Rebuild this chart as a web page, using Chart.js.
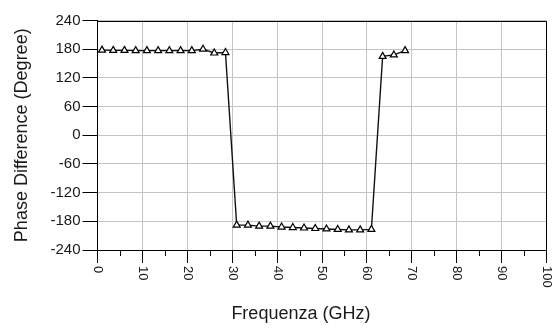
<!DOCTYPE html>
<html>
<head>
<meta charset="utf-8">
<script src="https://cdn.jsdelivr.net/npm/chart.js@4/dist/chart.umd.min.js"></script>
<style>
  html, body { margin: 0; padding: 0; background: #ffffff; }
  #wrap { width: 555px; height: 328px; position: relative; }
</style>
</head>
<body>
<div id="wrap"><canvas id="c" width="555" height="328"></canvas></div>
<script>
// ---- data ----
const freqGHz = [1, 3.5, 6, 8.5, 11, 13.5, 16, 18.5, 21, 23.5, 26, 28.5,
                 31, 33.5, 36, 38.5, 41, 43.5, 46, 48.5, 51, 53.5, 56, 58.5, 61,
                 63.5, 66, 68.5];
const phaseDeg = [178, 177.5, 177.5, 177, 177, 177, 177, 177, 177, 180, 172, 173,
                  -188, -188, -190, -190, -192, -193, -194, -195, -196, -197, -198, -198, -197,
                  165, 168, 177];
const xTicks = [0, 10, 20, 30, 40, 50, 60, 70, 80, 90, 100];
const xMinorTicks = [5, 15, 25, 35, 45, 55, 65, 75, 85, 95];
const yTicks = [-240, -180, -120, -60, 0, 60, 120, 180, 240];
const xTitle = 'Frequenza (GHz)';
const yTitle = 'Phase Difference (Degree)';

const FONT = "'Liberation Sans', Arial, sans-serif";
const TEXT = '#1a1a1a';
const GRID = '#c4c4c4';

const points = freqGHz.map((f, i) => ({ x: f, y: phaseDeg[i] }));

const overlay = {
  id: 'overlay',
  afterDraw(chart) {
    const { ctx, chartArea: a, scales: { x } } = chart;
    ctx.save();
    // frame top & right
    ctx.strokeStyle = '#000';
    ctx.lineWidth = 1;
    ctx.beginPath();
    const top = Math.round(a.top) + 0.5;
    const right = Math.round(a.right) - 0.5;
    ctx.moveTo(a.left, top);
    ctx.lineTo(right, top);
    ctx.lineTo(right, a.bottom);
    ctx.stroke();
    // minor ticks on x axis
    ctx.beginPath();
    xMinorTicks.forEach(v => {
      const px = Math.round(x.getPixelForValue(v)) + 0.5;
      ctx.moveTo(px, a.bottom);
      ctx.lineTo(px, a.bottom + 6);
    });
    ctx.stroke();
    // x tick labels, rotated clockwise
    ctx.fillStyle = TEXT;
    ctx.font = '13px ' + FONT;
    ctx.textAlign = 'left';
    ctx.textBaseline = 'middle';
    xTicks.forEach(v => {
      const px = x.getPixelForValue(v);
      ctx.save();
      ctx.translate(px, a.bottom + 16);
      ctx.rotate(Math.PI / 2);
      ctx.fillText(String(v), 0, 0);
      ctx.restore();
    });
    // x axis title
    ctx.font = '18px ' + FONT;
    ctx.textAlign = 'center';
    ctx.textBaseline = 'middle';
    ctx.fillText(xTitle, a.left + (a.right - a.left) * 0.453, a.bottom + 64);
    ctx.restore();
  }
};

new Chart(document.getElementById('c'), {
  type: 'scatter',
  data: {
    datasets: [{
      data: points,
      showLine: true,
      borderColor: '#111',
      borderWidth: 1.4,
      pointStyle: 'triangle',
      pointRadius: 4,
      pointBorderWidth: 1.2,
      pointBackgroundColor: '#ffffff',
      pointBorderColor: '#000',
      tension: 0
    }]
  },
  options: {
    responsive: false,
    animation: false,
    events: [],
    layout: { padding: { top: 20.5, right: 8.5, left: 0, bottom: 0 } },
    plugins: { legend: { display: false }, tooltip: { enabled: false } },
    scales: {
      x: {
        type: 'linear',
        min: 0, max: 100,
        afterBuildTicks: s => { s.ticks = xTicks.map(v => ({ value: v })); },
        afterFit: s => { s.height = 78; },
        ticks: { display: false },
        grid: { color: GRID, lineWidth: 1, tickColor: '#000', tickLength: 13, drawTicks: true },
        border: { color: '#000', width: 1 },
        title: { display: false }
      },
      y: {
        type: 'linear',
        min: -240, max: 240,
        afterBuildTicks: s => { s.ticks = yTicks.map(v => ({ value: v })); },
        afterFit: s => { s.width = 97.5; },
        ticks: { color: TEXT, font: { family: FONT, size: 15 }, padding: 2 },
        grid: { color: GRID, lineWidth: 1, tickColor: '#000', tickLength: 15, drawTicks: true },
        border: { color: '#000', width: 1 },
        title: {
          display: true, text: yTitle, color: TEXT,
          font: { family: FONT, size: 18 },
          padding: { top: 11, bottom: 0 }
        }
      }
    }
  },
  plugins: [overlay]
});
</script>
</body>
</html>
